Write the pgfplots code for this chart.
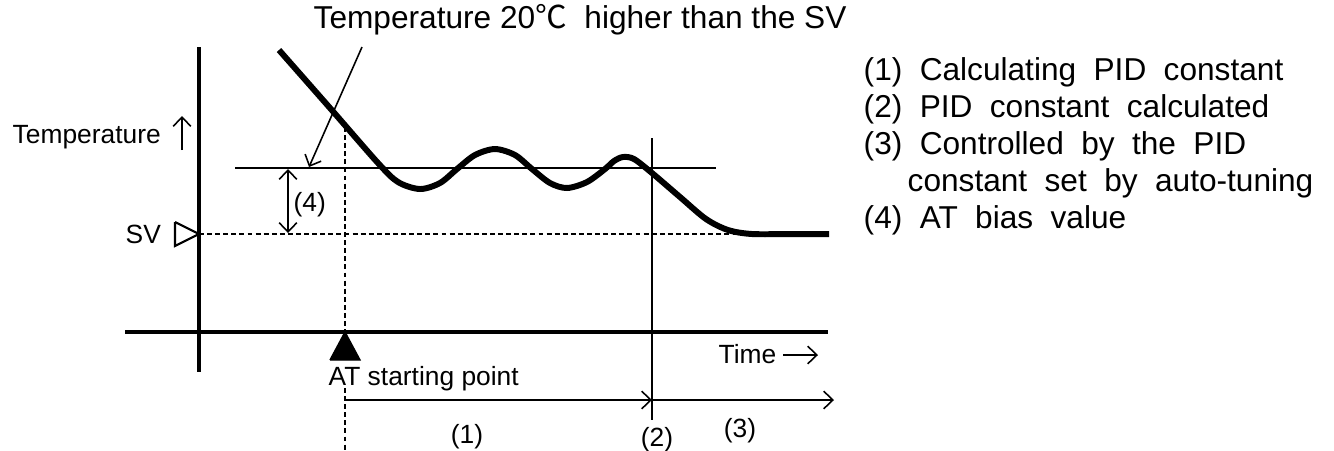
\documentclass[border=0pt]{standalone}
\usepackage{fontspec}
\setmainfont{Liberation Sans}
\newfontfamily\cjk{Noto Sans CJK SC}
\usepackage{pgfplots}
\pgfplotsset{compat=1.18}
\usetikzlibrary{arrows.meta}
\tikzset{
  barb/.style={-{Straight Barb[length=2.6pt,width=5pt]}},
  dbarb/.style={{Straight Barb[length=2.6pt,width=5pt]}-{Straight Barb[length=2.6pt,width=5pt]}},
  dsh/.style={line width=0.5pt, dash pattern=on 1.4pt off 0.9pt},
  thinl/.style={line width=0.45pt},
  small/.style={font=\fontsize{7.5}{9}\selectfont},
  big/.style={font=\fontsize{9}{11}\selectfont}}
\begin{document}
\begin{tikzpicture}
\begin{axis}[scale only axis, width=13.34cm, height=4.5cm,
  xmin=0, xmax=1334, ymin=0, ymax=450, y dir=reverse,
  axis lines=none, clip=false, no markers]
% axes
\addplot[black, line width=1pt] coordinates {(199,47) (199,372)};
\addplot[black, line width=1pt] coordinates {(125,332) (828,332)};
% SV dashed line
\addplot[black, dsh] coordinates {(199,234) (752,234)};
% SV+20 line
\addplot[black, thinl] coordinates {(235,168) (716,168)};
% AT start dashed vertical
\addplot[black, dsh] coordinates {(345,127) (345,332)};
\addplot[black, dsh] coordinates {(345,388) (345,450)};
% (2) vertical line
\addplot[black, thinl] coordinates {(652,138) (652,420)};
% temperature curve
\addplot[black, line width=1.7pt, smooth, tension=0.5] coordinates {
 (279,50) (330,108) (378,163) (398,182) (420,189) (440,183) (457,169)
 (475,155) (495,149) (515,155) (532,169) (550,183) (567,188) (587,182)
 (605,169) (614,161) (623,157) (634,159) (652,173) (680,197) (706,219)
 (728,230) (752,234) (790,234) (829,234)};
% pointer from title
\addplot[black, thinl, barb] coordinates {(362,47) (309,167)};
% (4) double arrow
\addplot[black, thinl, dbarb] coordinates {(288,169) (288,233)};
% Temperature up arrow
\addplot[black, thinl, barb] coordinates {(182,150) (182,116)};
% Time arrow
\addplot[black, thinl, barb] coordinates {(783,355) (818,355)};
% SV open triangle
\addplot[black, line width=0.6pt] coordinates {(175,222) (199,234) (175,246) (175,222)};
% AT filled triangle
\addplot[black, fill=black] coordinates {(330,360) (345,332) (360,360) (330,360)};
% time-span arrows
\addplot[black, thinl, barb] coordinates {(345,400) (652,400)};
\addplot[black, thinl, barb] coordinates {(652,400) (834,400)};
% texts
\node[big, anchor=base west, inner sep=0pt] at (axis cs:313,28) {Temperature 20{\cjk ℃}\ \ higher than the SV};
\node[small, anchor=base west, inner sep=0pt] at (axis cs:12,143) {Temperature};
\node[small, anchor=base west, inner sep=0pt] at (axis cs:125,243) {SV};
\node[small, anchor=base west, inner sep=0pt] at (axis cs:293,211) {(4)};
\node[small, anchor=base west, inner sep=0pt] at (axis cs:328,385) {AT starting point};
\node[small, anchor=base west, inner sep=0pt] at (axis cs:718,363) {Time};
\node[small, anchor=base] at (axis cs:467,443) {(1)};
\node[small, anchor=base] at (axis cs:657,446) {(2)};
\node[small, anchor=base] at (axis cs:740,437) {(3)};
\node[big, anchor=base west, inner sep=0pt] at (axis cs:863,80) {\spaceskip=0.55em\relax (1) Calculating PID constant};
\node[big, anchor=base west, inner sep=0pt] at (axis cs:863,117) {\spaceskip=0.55em\relax (2) PID constant calculated};
\node[big, anchor=base west, inner sep=0pt] at (axis cs:863,154) {\spaceskip=0.55em\relax (3) Controlled by the PID};
\node[big, anchor=base west, inner sep=0pt] at (axis cs:907,191) {\spaceskip=0.55em\relax constant set by auto-tuning};
\node[big, anchor=base west, inner sep=0pt] at (axis cs:863,228) {\spaceskip=0.55em\relax (4) AT bias value};
\end{axis}
\pgfresetboundingbox
\path (0,0) rectangle (13.34cm,4.5cm);
\end{tikzpicture}
\end{document}
